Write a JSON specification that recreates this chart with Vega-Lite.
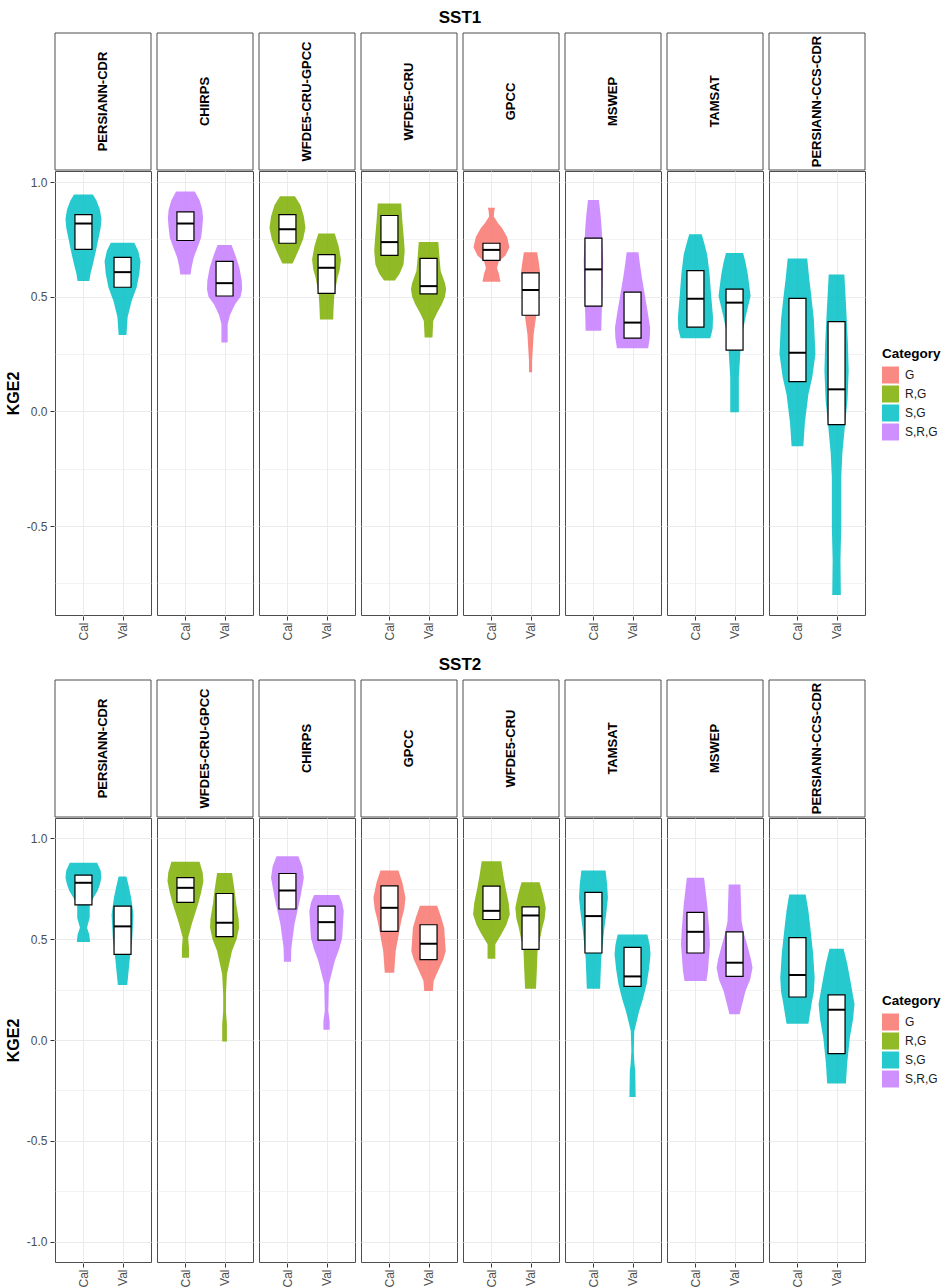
{
  "$schema": "https://vega.github.io/schema/vega-lite/v6.json",
  "background": "white",
  "padding": {"left": 5, "top": 8, "right": 2, "bottom": 0},
  "datasets": {
    "sst1": [
      {"kind":"violin","dataset":"PERSIANN-CDR","period":"Cal","category":"S,G","kge":0.945,"density":0.24},
      {"kind":"violin","dataset":"PERSIANN-CDR","period":"Cal","category":"S,G","kge":0.92,"density":0.33},
      {"kind":"violin","dataset":"PERSIANN-CDR","period":"Cal","category":"S,G","kge":0.88,"density":0.42},
      {"kind":"violin","dataset":"PERSIANN-CDR","period":"Cal","category":"S,G","kge":0.84,"density":0.46},
      {"kind":"violin","dataset":"PERSIANN-CDR","period":"Cal","category":"S,G","kge":0.80,"density":0.44},
      {"kind":"violin","dataset":"PERSIANN-CDR","period":"Cal","category":"S,G","kge":0.75,"density":0.38},
      {"kind":"violin","dataset":"PERSIANN-CDR","period":"Cal","category":"S,G","kge":0.70,"density":0.32},
      {"kind":"violin","dataset":"PERSIANN-CDR","period":"Cal","category":"S,G","kge":0.64,"density":0.24},
      {"kind":"violin","dataset":"PERSIANN-CDR","period":"Cal","category":"S,G","kge":0.60,"density":0.18},
      {"kind":"violin","dataset":"PERSIANN-CDR","period":"Cal","category":"S,G","kge":0.568,"density":0.15},
      {"kind":"violin","dataset":"PERSIANN-CDR","period":"Val","category":"S,G","kge":0.735,"density":0.30},
      {"kind":"violin","dataset":"PERSIANN-CDR","period":"Val","category":"S,G","kge":0.70,"density":0.40},
      {"kind":"violin","dataset":"PERSIANN-CDR","period":"Val","category":"S,G","kge":0.655,"density":0.46},
      {"kind":"violin","dataset":"PERSIANN-CDR","period":"Val","category":"S,G","kge":0.60,"density":0.43},
      {"kind":"violin","dataset":"PERSIANN-CDR","period":"Val","category":"S,G","kge":0.54,"density":0.36},
      {"kind":"violin","dataset":"PERSIANN-CDR","period":"Val","category":"S,G","kge":0.48,"density":0.23},
      {"kind":"violin","dataset":"PERSIANN-CDR","period":"Val","category":"S,G","kge":0.41,"density":0.13},
      {"kind":"violin","dataset":"PERSIANN-CDR","period":"Val","category":"S,G","kge":0.333,"density":0.10},
      {"kind":"violin","dataset":"CHIRPS","period":"Cal","category":"S,R,G","kge":0.959,"density":0.24},
      {"kind":"violin","dataset":"CHIRPS","period":"Cal","category":"S,R,G","kge":0.92,"density":0.36},
      {"kind":"violin","dataset":"CHIRPS","period":"Cal","category":"S,R,G","kge":0.88,"density":0.43},
      {"kind":"violin","dataset":"CHIRPS","period":"Cal","category":"S,R,G","kge":0.843,"density":0.45},
      {"kind":"violin","dataset":"CHIRPS","period":"Cal","category":"S,R,G","kge":0.80,"density":0.43},
      {"kind":"violin","dataset":"CHIRPS","period":"Cal","category":"S,R,G","kge":0.757,"density":0.40},
      {"kind":"violin","dataset":"CHIRPS","period":"Cal","category":"S,R,G","kge":0.71,"density":0.30},
      {"kind":"violin","dataset":"CHIRPS","period":"Cal","category":"S,R,G","kge":0.67,"density":0.21},
      {"kind":"violin","dataset":"CHIRPS","period":"Cal","category":"S,R,G","kge":0.63,"density":0.16},
      {"kind":"violin","dataset":"CHIRPS","period":"Cal","category":"S,R,G","kge":0.597,"density":0.13},
      {"kind":"violin","dataset":"CHIRPS","period":"Val","category":"S,R,G","kge":0.725,"density":0.18},
      {"kind":"violin","dataset":"CHIRPS","period":"Val","category":"S,R,G","kge":0.68,"density":0.28},
      {"kind":"violin","dataset":"CHIRPS","period":"Val","category":"S,R,G","kge":0.626,"density":0.38},
      {"kind":"violin","dataset":"CHIRPS","period":"Val","category":"S,R,G","kge":0.57,"density":0.44},
      {"kind":"violin","dataset":"CHIRPS","period":"Val","category":"S,R,G","kge":0.532,"density":0.45},
      {"kind":"violin","dataset":"CHIRPS","period":"Val","category":"S,R,G","kge":0.50,"density":0.41},
      {"kind":"violin","dataset":"CHIRPS","period":"Val","category":"S,R,G","kge":0.467,"density":0.27},
      {"kind":"violin","dataset":"CHIRPS","period":"Val","category":"S,R,G","kge":0.42,"density":0.14},
      {"kind":"violin","dataset":"CHIRPS","period":"Val","category":"S,R,G","kge":0.38,"density":0.08},
      {"kind":"violin","dataset":"CHIRPS","period":"Val","category":"S,R,G","kge":0.30,"density":0.08},
      {"kind":"violin","dataset":"WFDE5-CRU-GPCC","period":"Cal","category":"R,G","kge":0.938,"density":0.19},
      {"kind":"violin","dataset":"WFDE5-CRU-GPCC","period":"Cal","category":"R,G","kge":0.90,"density":0.33},
      {"kind":"violin","dataset":"WFDE5-CRU-GPCC","period":"Cal","category":"R,G","kge":0.85,"density":0.42},
      {"kind":"violin","dataset":"WFDE5-CRU-GPCC","period":"Cal","category":"R,G","kge":0.80,"density":0.46},
      {"kind":"violin","dataset":"WFDE5-CRU-GPCC","period":"Cal","category":"R,G","kge":0.75,"density":0.40},
      {"kind":"violin","dataset":"WFDE5-CRU-GPCC","period":"Cal","category":"R,G","kge":0.70,"density":0.28},
      {"kind":"violin","dataset":"WFDE5-CRU-GPCC","period":"Cal","category":"R,G","kge":0.67,"density":0.20},
      {"kind":"violin","dataset":"WFDE5-CRU-GPCC","period":"Cal","category":"R,G","kge":0.645,"density":0.13},
      {"kind":"violin","dataset":"WFDE5-CRU-GPCC","period":"Val","category":"R,G","kge":0.775,"density":0.21},
      {"kind":"violin","dataset":"WFDE5-CRU-GPCC","period":"Val","category":"R,G","kge":0.72,"density":0.31},
      {"kind":"violin","dataset":"WFDE5-CRU-GPCC","period":"Val","category":"R,G","kge":0.662,"density":0.37},
      {"kind":"violin","dataset":"WFDE5-CRU-GPCC","period":"Val","category":"R,G","kge":0.62,"density":0.34},
      {"kind":"violin","dataset":"WFDE5-CRU-GPCC","period":"Val","category":"R,G","kge":0.583,"density":0.28},
      {"kind":"violin","dataset":"WFDE5-CRU-GPCC","period":"Val","category":"R,G","kge":0.51,"density":0.20},
      {"kind":"violin","dataset":"WFDE5-CRU-GPCC","period":"Val","category":"R,G","kge":0.45,"density":0.18},
      {"kind":"violin","dataset":"WFDE5-CRU-GPCC","period":"Val","category":"R,G","kge":0.40,"density":0.17},
      {"kind":"violin","dataset":"WFDE5-CRU","period":"Cal","category":"R,G","kge":0.906,"density":0.30},
      {"kind":"violin","dataset":"WFDE5-CRU","period":"Cal","category":"R,G","kge":0.829,"density":0.33},
      {"kind":"violin","dataset":"WFDE5-CRU","period":"Cal","category":"R,G","kge":0.75,"density":0.37},
      {"kind":"violin","dataset":"WFDE5-CRU","period":"Cal","category":"R,G","kge":0.699,"density":0.39},
      {"kind":"violin","dataset":"WFDE5-CRU","period":"Cal","category":"R,G","kge":0.64,"density":0.36},
      {"kind":"violin","dataset":"WFDE5-CRU","period":"Cal","category":"R,G","kge":0.60,"density":0.26},
      {"kind":"violin","dataset":"WFDE5-CRU","period":"Cal","category":"R,G","kge":0.571,"density":0.14},
      {"kind":"violin","dataset":"WFDE5-CRU","period":"Val","category":"R,G","kge":0.738,"density":0.25},
      {"kind":"violin","dataset":"WFDE5-CRU","period":"Val","category":"R,G","kge":0.67,"density":0.28},
      {"kind":"violin","dataset":"WFDE5-CRU","period":"Val","category":"R,G","kge":0.612,"density":0.31},
      {"kind":"violin","dataset":"WFDE5-CRU","period":"Val","category":"R,G","kge":0.56,"density":0.42},
      {"kind":"violin","dataset":"WFDE5-CRU","period":"Val","category":"R,G","kge":0.532,"density":0.45},
      {"kind":"violin","dataset":"WFDE5-CRU","period":"Val","category":"R,G","kge":0.50,"density":0.42},
      {"kind":"violin","dataset":"WFDE5-CRU","period":"Val","category":"R,G","kge":0.467,"density":0.34},
      {"kind":"violin","dataset":"WFDE5-CRU","period":"Val","category":"R,G","kge":0.43,"density":0.22},
      {"kind":"violin","dataset":"WFDE5-CRU","period":"Val","category":"R,G","kge":0.394,"density":0.12},
      {"kind":"violin","dataset":"WFDE5-CRU","period":"Val","category":"R,G","kge":0.322,"density":0.10},
      {"kind":"violin","dataset":"GPCC","period":"Cal","category":"G","kge":0.888,"density":0.09},
      {"kind":"violin","dataset":"GPCC","period":"Cal","category":"G","kge":0.87,"density":0.07},
      {"kind":"violin","dataset":"GPCC","period":"Cal","category":"G","kge":0.85,"density":0.06},
      {"kind":"violin","dataset":"GPCC","period":"Cal","category":"G","kge":0.82,"density":0.17},
      {"kind":"violin","dataset":"GPCC","period":"Cal","category":"G","kge":0.80,"density":0.27},
      {"kind":"violin","dataset":"GPCC","period":"Cal","category":"G","kge":0.76,"density":0.40},
      {"kind":"violin","dataset":"GPCC","period":"Cal","category":"G","kge":0.716,"density":0.46},
      {"kind":"violin","dataset":"GPCC","period":"Cal","category":"G","kge":0.68,"density":0.36},
      {"kind":"violin","dataset":"GPCC","period":"Cal","category":"G","kge":0.655,"density":0.19},
      {"kind":"violin","dataset":"GPCC","period":"Cal","category":"G","kge":0.625,"density":0.14},
      {"kind":"violin","dataset":"GPCC","period":"Cal","category":"G","kge":0.60,"density":0.19},
      {"kind":"violin","dataset":"GPCC","period":"Cal","category":"G","kge":0.565,"density":0.23},
      {"kind":"violin","dataset":"GPCC","period":"Val","category":"G","kge":0.694,"density":0.17},
      {"kind":"violin","dataset":"GPCC","period":"Val","category":"G","kge":0.65,"density":0.21},
      {"kind":"violin","dataset":"GPCC","period":"Val","category":"G","kge":0.612,"density":0.24},
      {"kind":"violin","dataset":"GPCC","period":"Val","category":"G","kge":0.539,"density":0.22},
      {"kind":"violin","dataset":"GPCC","period":"Val","category":"G","kge":0.47,"density":0.18},
      {"kind":"violin","dataset":"GPCC","period":"Val","category":"G","kge":0.423,"density":0.15},
      {"kind":"violin","dataset":"GPCC","period":"Val","category":"G","kge":0.336,"density":0.08},
      {"kind":"violin","dataset":"GPCC","period":"Val","category":"G","kge":0.22,"density":0.04},
      {"kind":"violin","dataset":"GPCC","period":"Val","category":"G","kge":0.171,"density":0.04},
      {"kind":"violin","dataset":"MSWEP","period":"Cal","category":"S,R,G","kge":0.922,"density":0.14},
      {"kind":"violin","dataset":"MSWEP","period":"Cal","category":"S,R,G","kge":0.86,"density":0.18},
      {"kind":"violin","dataset":"MSWEP","period":"Cal","category":"S,R,G","kge":0.80,"density":0.21},
      {"kind":"violin","dataset":"MSWEP","period":"Cal","category":"S,R,G","kge":0.655,"density":0.25},
      {"kind":"violin","dataset":"MSWEP","period":"Cal","category":"S,R,G","kge":0.51,"density":0.23},
      {"kind":"violin","dataset":"MSWEP","period":"Cal","category":"S,R,G","kge":0.42,"density":0.21},
      {"kind":"violin","dataset":"MSWEP","period":"Cal","category":"S,R,G","kge":0.351,"density":0.20},
      {"kind":"violin","dataset":"MSWEP","period":"Val","category":"S,R,G","kge":0.694,"density":0.15},
      {"kind":"violin","dataset":"MSWEP","period":"Val","category":"S,R,G","kge":0.64,"density":0.19},
      {"kind":"violin","dataset":"MSWEP","period":"Val","category":"S,R,G","kge":0.583,"density":0.24},
      {"kind":"violin","dataset":"MSWEP","period":"Val","category":"S,R,G","kge":0.481,"density":0.34},
      {"kind":"violin","dataset":"MSWEP","period":"Val","category":"S,R,G","kge":0.42,"density":0.40},
      {"kind":"violin","dataset":"MSWEP","period":"Val","category":"S,R,G","kge":0.365,"density":0.45},
      {"kind":"violin","dataset":"MSWEP","period":"Val","category":"S,R,G","kge":0.32,"density":0.44},
      {"kind":"violin","dataset":"MSWEP","period":"Val","category":"S,R,G","kge":0.275,"density":0.40},
      {"kind":"violin","dataset":"TAMSAT","period":"Cal","category":"S,G","kge":0.772,"density":0.16},
      {"kind":"violin","dataset":"TAMSAT","period":"Cal","category":"S,G","kge":0.73,"density":0.23},
      {"kind":"violin","dataset":"TAMSAT","period":"Cal","category":"S,G","kge":0.684,"density":0.30},
      {"kind":"violin","dataset":"TAMSAT","period":"Cal","category":"S,G","kge":0.60,"density":0.36},
      {"kind":"violin","dataset":"TAMSAT","period":"Cal","category":"S,G","kge":0.51,"density":0.40},
      {"kind":"violin","dataset":"TAMSAT","period":"Cal","category":"S,G","kge":0.409,"density":0.45},
      {"kind":"violin","dataset":"TAMSAT","period":"Cal","category":"S,G","kge":0.36,"density":0.44},
      {"kind":"violin","dataset":"TAMSAT","period":"Cal","category":"S,G","kge":0.319,"density":0.38},
      {"kind":"violin","dataset":"TAMSAT","period":"Val","category":"S,G","kge":0.690,"density":0.22},
      {"kind":"violin","dataset":"TAMSAT","period":"Val","category":"S,G","kge":0.65,"density":0.28},
      {"kind":"violin","dataset":"TAMSAT","period":"Val","category":"S,G","kge":0.597,"density":0.34},
      {"kind":"violin","dataset":"TAMSAT","period":"Val","category":"S,G","kge":0.503,"density":0.41},
      {"kind":"violin","dataset":"TAMSAT","period":"Val","category":"S,G","kge":0.409,"density":0.28},
      {"kind":"violin","dataset":"TAMSAT","period":"Val","category":"S,G","kge":0.35,"density":0.21},
      {"kind":"violin","dataset":"TAMSAT","period":"Val","category":"S,G","kge":0.29,"density":0.16},
      {"kind":"violin","dataset":"TAMSAT","period":"Val","category":"S,G","kge":0.148,"density":0.11},
      {"kind":"violin","dataset":"TAMSAT","period":"Val","category":"S,G","kge":-0.004,"density":0.11},
      {"kind":"violin","dataset":"PERSIANN-CCS-CDR","period":"Cal","category":"S,G","kge":0.667,"density":0.25},
      {"kind":"violin","dataset":"PERSIANN-CCS-CDR","period":"Cal","category":"S,G","kge":0.58,"density":0.30},
      {"kind":"violin","dataset":"PERSIANN-CCS-CDR","period":"Cal","category":"S,G","kge":0.51,"density":0.35},
      {"kind":"violin","dataset":"PERSIANN-CCS-CDR","period":"Cal","category":"S,G","kge":0.40,"density":0.42},
      {"kind":"violin","dataset":"PERSIANN-CCS-CDR","period":"Cal","category":"S,G","kge":0.25,"density":0.46},
      {"kind":"violin","dataset":"PERSIANN-CCS-CDR","period":"Cal","category":"S,G","kge":0.15,"density":0.38},
      {"kind":"violin","dataset":"PERSIANN-CCS-CDR","period":"Cal","category":"S,G","kge":0.075,"density":0.28},
      {"kind":"violin","dataset":"PERSIANN-CCS-CDR","period":"Cal","category":"S,G","kge":-0.05,"density":0.19},
      {"kind":"violin","dataset":"PERSIANN-CCS-CDR","period":"Cal","category":"S,G","kge":-0.152,"density":0.15},
      {"kind":"violin","dataset":"PERSIANN-CCS-CDR","period":"Val","category":"S,G","kge":0.597,"density":0.20},
      {"kind":"violin","dataset":"PERSIANN-CCS-CDR","period":"Val","category":"S,G","kge":0.438,"density":0.25},
      {"kind":"violin","dataset":"PERSIANN-CCS-CDR","period":"Val","category":"S,G","kge":0.30,"density":0.29},
      {"kind":"violin","dataset":"PERSIANN-CCS-CDR","period":"Val","category":"S,G","kge":0.177,"density":0.31},
      {"kind":"violin","dataset":"PERSIANN-CCS-CDR","period":"Val","category":"S,G","kge":0.05,"density":0.28},
      {"kind":"violin","dataset":"PERSIANN-CCS-CDR","period":"Val","category":"S,G","kge":-0.07,"density":0.21},
      {"kind":"violin","dataset":"PERSIANN-CCS-CDR","period":"Val","category":"S,G","kge":-0.18,"density":0.15},
      {"kind":"violin","dataset":"PERSIANN-CCS-CDR","period":"Val","category":"S,G","kge":-0.287,"density":0.12},
      {"kind":"violin","dataset":"PERSIANN-CCS-CDR","period":"Val","category":"S,G","kge":-0.504,"density":0.12},
      {"kind":"violin","dataset":"PERSIANN-CCS-CDR","period":"Val","category":"S,G","kge":-0.65,"density":0.10},
      {"kind":"violin","dataset":"PERSIANN-CCS-CDR","period":"Val","category":"S,G","kge":-0.801,"density":0.11},
      {"kind":"box","dataset":"PERSIANN-CDR","period":"Cal","q1":0.706,"median":0.819,"q3":0.858},
      {"kind":"box","dataset":"PERSIANN-CDR","period":"Val","q1":0.541,"median":0.607,"q3":0.671},
      {"kind":"box","dataset":"CHIRPS","period":"Cal","q1":0.745,"median":0.819,"q3":0.870},
      {"kind":"box","dataset":"CHIRPS","period":"Val","q1":0.503,"median":0.559,"q3":0.654},
      {"kind":"box","dataset":"WFDE5-CRU-GPCC","period":"Cal","q1":0.733,"median":0.794,"q3":0.858},
      {"kind":"box","dataset":"WFDE5-CRU-GPCC","period":"Val","q1":0.514,"median":0.626,"q3":0.683},
      {"kind":"box","dataset":"WFDE5-CRU","period":"Cal","q1":0.680,"median":0.738,"q3":0.854},
      {"kind":"box","dataset":"WFDE5-CRU","period":"Val","q1":0.512,"median":0.546,"q3":0.667},
      {"kind":"box","dataset":"GPCC","period":"Cal","q1":0.658,"median":0.704,"q3":0.733},
      {"kind":"box","dataset":"GPCC","period":"Val","q1":0.419,"median":0.529,"q3":0.604},
      {"kind":"box","dataset":"MSWEP","period":"Cal","q1":0.459,"median":0.619,"q3":0.755},
      {"kind":"box","dataset":"MSWEP","period":"Val","q1":0.319,"median":0.387,"q3":0.520},
      {"kind":"box","dataset":"TAMSAT","period":"Cal","q1":0.367,"median":0.491,"q3":0.614},
      {"kind":"box","dataset":"TAMSAT","period":"Val","q1":0.267,"median":0.474,"q3":0.533},
      {"kind":"box","dataset":"PERSIANN-CCS-CDR","period":"Cal","q1":0.130,"median":0.255,"q3":0.493},
      {"kind":"box","dataset":"PERSIANN-CCS-CDR","period":"Val","q1":-0.058,"median":0.096,"q3":0.391}
    ],
    "sst2": [
      {"kind":"violin","dataset":"PERSIANN-CDR","period":"Cal","category":"S,G","kge":0.878,"density":0.35},
      {"kind":"violin","dataset":"PERSIANN-CDR","period":"Cal","category":"S,G","kge":0.84,"density":0.44},
      {"kind":"violin","dataset":"PERSIANN-CDR","period":"Cal","category":"S,G","kge":0.804,"density":0.46},
      {"kind":"violin","dataset":"PERSIANN-CDR","period":"Cal","category":"S,G","kge":0.77,"density":0.42},
      {"kind":"violin","dataset":"PERSIANN-CDR","period":"Cal","category":"S,G","kge":0.738,"density":0.36},
      {"kind":"violin","dataset":"PERSIANN-CDR","period":"Cal","category":"S,G","kge":0.70,"density":0.24},
      {"kind":"violin","dataset":"PERSIANN-CDR","period":"Cal","category":"S,G","kge":0.672,"density":0.16},
      {"kind":"violin","dataset":"PERSIANN-CDR","period":"Cal","category":"S,G","kge":0.606,"density":0.16},
      {"kind":"violin","dataset":"PERSIANN-CDR","period":"Cal","category":"S,G","kge":0.556,"density":0.09},
      {"kind":"violin","dataset":"PERSIANN-CDR","period":"Cal","category":"S,G","kge":0.523,"density":0.15},
      {"kind":"violin","dataset":"PERSIANN-CDR","period":"Cal","category":"S,G","kge":0.485,"density":0.17},
      {"kind":"violin","dataset":"PERSIANN-CDR","period":"Val","category":"S,G","kge":0.810,"density":0.10},
      {"kind":"violin","dataset":"PERSIANN-CDR","period":"Val","category":"S,G","kge":0.76,"density":0.16},
      {"kind":"violin","dataset":"PERSIANN-CDR","period":"Val","category":"S,G","kge":0.705,"density":0.22},
      {"kind":"violin","dataset":"PERSIANN-CDR","period":"Val","category":"S,G","kge":0.622,"density":0.28},
      {"kind":"violin","dataset":"PERSIANN-CDR","period":"Val","category":"S,G","kge":0.507,"density":0.25},
      {"kind":"violin","dataset":"PERSIANN-CDR","period":"Val","category":"S,G","kge":0.391,"density":0.18},
      {"kind":"violin","dataset":"PERSIANN-CDR","period":"Val","category":"S,G","kge":0.272,"density":0.12},
      {"kind":"violin","dataset":"WFDE5-CRU-GPCC","period":"Cal","category":"R,G","kge":0.883,"density":0.36},
      {"kind":"violin","dataset":"WFDE5-CRU-GPCC","period":"Cal","category":"R,G","kge":0.83,"density":0.44},
      {"kind":"violin","dataset":"WFDE5-CRU-GPCC","period":"Cal","category":"R,G","kge":0.787,"density":0.46},
      {"kind":"violin","dataset":"WFDE5-CRU-GPCC","period":"Cal","category":"R,G","kge":0.73,"density":0.40},
      {"kind":"violin","dataset":"WFDE5-CRU-GPCC","period":"Cal","category":"R,G","kge":0.672,"density":0.32},
      {"kind":"violin","dataset":"WFDE5-CRU-GPCC","period":"Cal","category":"R,G","kge":0.573,"density":0.16},
      {"kind":"violin","dataset":"WFDE5-CRU-GPCC","period":"Cal","category":"R,G","kge":0.507,"density":0.07},
      {"kind":"violin","dataset":"WFDE5-CRU-GPCC","period":"Cal","category":"R,G","kge":0.457,"density":0.09},
      {"kind":"violin","dataset":"WFDE5-CRU-GPCC","period":"Cal","category":"R,G","kge":0.408,"density":0.09},
      {"kind":"violin","dataset":"WFDE5-CRU-GPCC","period":"Val","category":"R,G","kge":0.828,"density":0.19},
      {"kind":"violin","dataset":"WFDE5-CRU-GPCC","period":"Val","category":"R,G","kge":0.75,"density":0.25},
      {"kind":"violin","dataset":"WFDE5-CRU-GPCC","period":"Val","category":"R,G","kge":0.672,"density":0.30},
      {"kind":"violin","dataset":"WFDE5-CRU-GPCC","period":"Val","category":"R,G","kge":0.60,"density":0.36},
      {"kind":"violin","dataset":"WFDE5-CRU-GPCC","period":"Val","category":"R,G","kge":0.556,"density":0.37},
      {"kind":"violin","dataset":"WFDE5-CRU-GPCC","period":"Val","category":"R,G","kge":0.50,"density":0.31},
      {"kind":"violin","dataset":"WFDE5-CRU-GPCC","period":"Val","category":"R,G","kge":0.441,"density":0.19},
      {"kind":"violin","dataset":"WFDE5-CRU-GPCC","period":"Val","category":"R,G","kge":0.325,"density":0.06},
      {"kind":"violin","dataset":"WFDE5-CRU-GPCC","period":"Val","category":"R,G","kge":0.226,"density":0.035},
      {"kind":"violin","dataset":"WFDE5-CRU-GPCC","period":"Val","category":"R,G","kge":0.144,"density":0.035},
      {"kind":"violin","dataset":"WFDE5-CRU-GPCC","period":"Val","category":"R,G","kge":0.078,"density":0.06},
      {"kind":"violin","dataset":"WFDE5-CRU-GPCC","period":"Val","category":"R,G","kge":-0.008,"density":0.06},
      {"kind":"violin","dataset":"CHIRPS","period":"Cal","category":"S,R,G","kge":0.911,"density":0.28},
      {"kind":"violin","dataset":"CHIRPS","period":"Cal","category":"S,R,G","kge":0.86,"density":0.38},
      {"kind":"violin","dataset":"CHIRPS","period":"Cal","category":"S,R,G","kge":0.804,"density":0.42},
      {"kind":"violin","dataset":"CHIRPS","period":"Cal","category":"S,R,G","kge":0.705,"density":0.33},
      {"kind":"violin","dataset":"CHIRPS","period":"Cal","category":"S,R,G","kge":0.573,"density":0.18},
      {"kind":"violin","dataset":"CHIRPS","period":"Cal","category":"S,R,G","kge":0.457,"density":0.10},
      {"kind":"violin","dataset":"CHIRPS","period":"Cal","category":"S,R,G","kge":0.388,"density":0.09},
      {"kind":"violin","dataset":"CHIRPS","period":"Val","category":"S,R,G","kge":0.718,"density":0.32},
      {"kind":"violin","dataset":"CHIRPS","period":"Val","category":"S,R,G","kge":0.68,"density":0.40},
      {"kind":"violin","dataset":"CHIRPS","period":"Val","category":"S,R,G","kge":0.639,"density":0.44},
      {"kind":"violin","dataset":"CHIRPS","period":"Val","category":"S,R,G","kge":0.507,"density":0.40},
      {"kind":"violin","dataset":"CHIRPS","period":"Val","category":"S,R,G","kge":0.45,"density":0.32},
      {"kind":"violin","dataset":"CHIRPS","period":"Val","category":"S,R,G","kge":0.391,"density":0.21},
      {"kind":"violin","dataset":"CHIRPS","period":"Val","category":"S,R,G","kge":0.276,"density":0.06},
      {"kind":"violin","dataset":"CHIRPS","period":"Val","category":"S,R,G","kge":0.144,"density":0.045},
      {"kind":"violin","dataset":"CHIRPS","period":"Val","category":"S,R,G","kge":0.094,"density":0.08},
      {"kind":"violin","dataset":"CHIRPS","period":"Val","category":"S,R,G","kge":0.051,"density":0.08},
      {"kind":"violin","dataset":"GPCC","period":"Cal","category":"G","kge":0.840,"density":0.23},
      {"kind":"violin","dataset":"GPCC","period":"Cal","category":"G","kge":0.78,"density":0.33},
      {"kind":"violin","dataset":"GPCC","period":"Cal","category":"G","kge":0.705,"density":0.41},
      {"kind":"violin","dataset":"GPCC","period":"Cal","category":"G","kge":0.65,"density":0.38},
      {"kind":"violin","dataset":"GPCC","period":"Cal","category":"G","kge":0.589,"density":0.30},
      {"kind":"violin","dataset":"GPCC","period":"Cal","category":"G","kge":0.441,"density":0.16},
      {"kind":"violin","dataset":"GPCC","period":"Cal","category":"G","kge":0.333,"density":0.12},
      {"kind":"violin","dataset":"GPCC","period":"Val","category":"G","kge":0.665,"density":0.22},
      {"kind":"violin","dataset":"GPCC","period":"Val","category":"G","kge":0.61,"density":0.32},
      {"kind":"violin","dataset":"GPCC","period":"Val","category":"G","kge":0.556,"density":0.40},
      {"kind":"violin","dataset":"GPCC","period":"Val","category":"G","kge":0.441,"density":0.44},
      {"kind":"violin","dataset":"GPCC","period":"Val","category":"G","kge":0.40,"density":0.38},
      {"kind":"violin","dataset":"GPCC","period":"Val","category":"G","kge":0.358,"density":0.28},
      {"kind":"violin","dataset":"GPCC","period":"Val","category":"G","kge":0.292,"density":0.13},
      {"kind":"violin","dataset":"GPCC","period":"Val","category":"G","kge":0.243,"density":0.11},
      {"kind":"violin","dataset":"WFDE5-CRU","period":"Cal","category":"R,G","kge":0.886,"density":0.25},
      {"kind":"violin","dataset":"WFDE5-CRU","period":"Cal","category":"R,G","kge":0.82,"density":0.30},
      {"kind":"violin","dataset":"WFDE5-CRU","period":"Cal","category":"R,G","kge":0.754,"density":0.36},
      {"kind":"violin","dataset":"WFDE5-CRU","period":"Cal","category":"R,G","kge":0.68,"density":0.44},
      {"kind":"violin","dataset":"WFDE5-CRU","period":"Cal","category":"R,G","kge":0.622,"density":0.47},
      {"kind":"violin","dataset":"WFDE5-CRU","period":"Cal","category":"R,G","kge":0.57,"density":0.38},
      {"kind":"violin","dataset":"WFDE5-CRU","period":"Cal","category":"R,G","kge":0.523,"density":0.25},
      {"kind":"violin","dataset":"WFDE5-CRU","period":"Cal","category":"R,G","kge":0.474,"density":0.10},
      {"kind":"violin","dataset":"WFDE5-CRU","period":"Cal","category":"R,G","kge":0.403,"density":0.10},
      {"kind":"violin","dataset":"WFDE5-CRU","period":"Val","category":"R,G","kge":0.782,"density":0.23},
      {"kind":"violin","dataset":"WFDE5-CRU","period":"Val","category":"R,G","kge":0.72,"density":0.32},
      {"kind":"violin","dataset":"WFDE5-CRU","period":"Val","category":"R,G","kge":0.655,"density":0.39},
      {"kind":"violin","dataset":"WFDE5-CRU","period":"Val","category":"R,G","kge":0.60,"density":0.36},
      {"kind":"violin","dataset":"WFDE5-CRU","period":"Val","category":"R,G","kge":0.556,"density":0.30},
      {"kind":"violin","dataset":"WFDE5-CRU","period":"Val","category":"R,G","kge":0.441,"density":0.18},
      {"kind":"violin","dataset":"WFDE5-CRU","period":"Val","category":"R,G","kge":0.342,"density":0.16},
      {"kind":"violin","dataset":"WFDE5-CRU","period":"Val","category":"R,G","kge":0.254,"density":0.14},
      {"kind":"violin","dataset":"TAMSAT","period":"Cal","category":"S,G","kge":0.840,"density":0.31},
      {"kind":"violin","dataset":"TAMSAT","period":"Cal","category":"S,G","kge":0.77,"density":0.35},
      {"kind":"violin","dataset":"TAMSAT","period":"Cal","category":"S,G","kge":0.705,"density":0.37},
      {"kind":"violin","dataset":"TAMSAT","period":"Cal","category":"S,G","kge":0.63,"density":0.33},
      {"kind":"violin","dataset":"TAMSAT","period":"Cal","category":"S,G","kge":0.556,"density":0.28},
      {"kind":"violin","dataset":"TAMSAT","period":"Cal","category":"S,G","kge":0.408,"density":0.20},
      {"kind":"violin","dataset":"TAMSAT","period":"Cal","category":"S,G","kge":0.309,"density":0.18},
      {"kind":"violin","dataset":"TAMSAT","period":"Cal","category":"S,G","kge":0.254,"density":0.17},
      {"kind":"violin","dataset":"TAMSAT","period":"Val","category":"S,G","kge":0.523,"density":0.38},
      {"kind":"violin","dataset":"TAMSAT","period":"Val","category":"S,G","kge":0.47,"density":0.44},
      {"kind":"violin","dataset":"TAMSAT","period":"Val","category":"S,G","kge":0.424,"density":0.46},
      {"kind":"violin","dataset":"TAMSAT","period":"Val","category":"S,G","kge":0.35,"density":0.42},
      {"kind":"violin","dataset":"TAMSAT","period":"Val","category":"S,G","kge":0.276,"density":0.36},
      {"kind":"violin","dataset":"TAMSAT","period":"Val","category":"S,G","kge":0.20,"density":0.26},
      {"kind":"violin","dataset":"TAMSAT","period":"Val","category":"S,G","kge":0.144,"density":0.17},
      {"kind":"violin","dataset":"TAMSAT","period":"Val","category":"S,G","kge":0.045,"density":0.045},
      {"kind":"violin","dataset":"TAMSAT","period":"Val","category":"S,G","kge":-0.054,"density":0.03},
      {"kind":"violin","dataset":"TAMSAT","period":"Val","category":"S,G","kge":-0.12,"density":0.05},
      {"kind":"violin","dataset":"TAMSAT","period":"Val","category":"S,G","kge":-0.153,"density":0.07},
      {"kind":"violin","dataset":"TAMSAT","period":"Val","category":"S,G","kge":-0.282,"density":0.08},
      {"kind":"violin","dataset":"MSWEP","period":"Cal","category":"S,R,G","kge":0.804,"density":0.22},
      {"kind":"violin","dataset":"MSWEP","period":"Cal","category":"S,R,G","kge":0.672,"density":0.30},
      {"kind":"violin","dataset":"MSWEP","period":"Cal","category":"S,R,G","kge":0.55,"density":0.35},
      {"kind":"violin","dataset":"MSWEP","period":"Cal","category":"S,R,G","kge":0.474,"density":0.37},
      {"kind":"violin","dataset":"MSWEP","period":"Cal","category":"S,R,G","kge":0.342,"density":0.32},
      {"kind":"violin","dataset":"MSWEP","period":"Cal","category":"S,R,G","kge":0.292,"density":0.28},
      {"kind":"violin","dataset":"MSWEP","period":"Val","category":"S,R,G","kge":0.771,"density":0.15},
      {"kind":"violin","dataset":"MSWEP","period":"Val","category":"S,R,G","kge":0.589,"density":0.18},
      {"kind":"violin","dataset":"MSWEP","period":"Val","category":"S,R,G","kge":0.52,"density":0.25},
      {"kind":"violin","dataset":"MSWEP","period":"Val","category":"S,R,G","kge":0.474,"density":0.32},
      {"kind":"violin","dataset":"MSWEP","period":"Val","category":"S,R,G","kge":0.40,"density":0.42},
      {"kind":"violin","dataset":"MSWEP","period":"Val","category":"S,R,G","kge":0.358,"density":0.46},
      {"kind":"violin","dataset":"MSWEP","period":"Val","category":"S,R,G","kge":0.30,"density":0.40},
      {"kind":"violin","dataset":"MSWEP","period":"Val","category":"S,R,G","kge":0.243,"density":0.28},
      {"kind":"violin","dataset":"MSWEP","period":"Val","category":"S,R,G","kge":0.127,"density":0.13},
      {"kind":"violin","dataset":"PERSIANN-CCS-CDR","period":"Cal","category":"S,G","kge":0.721,"density":0.21},
      {"kind":"violin","dataset":"PERSIANN-CCS-CDR","period":"Cal","category":"S,G","kge":0.64,"density":0.28},
      {"kind":"violin","dataset":"PERSIANN-CCS-CDR","period":"Cal","category":"S,G","kge":0.556,"density":0.33},
      {"kind":"violin","dataset":"PERSIANN-CCS-CDR","period":"Cal","category":"S,G","kge":0.43,"density":0.40},
      {"kind":"violin","dataset":"PERSIANN-CCS-CDR","period":"Cal","category":"S,G","kge":0.309,"density":0.44},
      {"kind":"violin","dataset":"PERSIANN-CCS-CDR","period":"Cal","category":"S,G","kge":0.24,"density":0.42},
      {"kind":"violin","dataset":"PERSIANN-CCS-CDR","period":"Cal","category":"S,G","kge":0.177,"density":0.36},
      {"kind":"violin","dataset":"PERSIANN-CCS-CDR","period":"Cal","category":"S,G","kge":0.081,"density":0.28},
      {"kind":"violin","dataset":"PERSIANN-CCS-CDR","period":"Val","category":"S,G","kge":0.452,"density":0.18},
      {"kind":"violin","dataset":"PERSIANN-CCS-CDR","period":"Val","category":"S,G","kge":0.38,"density":0.27},
      {"kind":"violin","dataset":"PERSIANN-CCS-CDR","period":"Val","category":"S,G","kge":0.309,"density":0.34},
      {"kind":"violin","dataset":"PERSIANN-CCS-CDR","period":"Val","category":"S,G","kge":0.177,"density":0.46},
      {"kind":"violin","dataset":"PERSIANN-CCS-CDR","period":"Val","category":"S,G","kge":0.10,"density":0.42},
      {"kind":"violin","dataset":"PERSIANN-CCS-CDR","period":"Val","category":"S,G","kge":0.012,"density":0.34},
      {"kind":"violin","dataset":"PERSIANN-CCS-CDR","period":"Val","category":"S,G","kge":-0.12,"density":0.27},
      {"kind":"violin","dataset":"PERSIANN-CCS-CDR","period":"Val","category":"S,G","kge":-0.216,"density":0.24},
      {"kind":"box","dataset":"PERSIANN-CDR","period":"Cal","q1":0.670,"median":0.779,"q3":0.817},
      {"kind":"box","dataset":"PERSIANN-CDR","period":"Val","q1":0.424,"median":0.563,"q3":0.663},
      {"kind":"box","dataset":"WFDE5-CRU-GPCC","period":"Cal","q1":0.682,"median":0.754,"q3":0.805},
      {"kind":"box","dataset":"WFDE5-CRU-GPCC","period":"Val","q1":0.512,"median":0.581,"q3":0.726},
      {"kind":"box","dataset":"CHIRPS","period":"Cal","q1":0.649,"median":0.741,"q3":0.825},
      {"kind":"box","dataset":"CHIRPS","period":"Val","q1":0.495,"median":0.584,"q3":0.663},
      {"kind":"box","dataset":"GPCC","period":"Cal","q1":0.538,"median":0.655,"q3":0.764},
      {"kind":"box","dataset":"GPCC","period":"Val","q1":0.398,"median":0.477,"q3":0.571},
      {"kind":"box","dataset":"WFDE5-CRU","period":"Cal","q1":0.597,"median":0.640,"q3":0.762},
      {"kind":"box","dataset":"WFDE5-CRU","period":"Val","q1":0.449,"median":0.617,"q3":0.660},
      {"kind":"box","dataset":"TAMSAT","period":"Cal","q1":0.431,"median":0.614,"q3":0.731},
      {"kind":"box","dataset":"TAMSAT","period":"Val","q1":0.266,"median":0.315,"q3":0.459},
      {"kind":"box","dataset":"MSWEP","period":"Cal","q1":0.431,"median":0.536,"q3":0.632},
      {"kind":"box","dataset":"MSWEP","period":"Val","q1":0.315,"median":0.383,"q3":0.536},
      {"kind":"box","dataset":"PERSIANN-CCS-CDR","period":"Cal","q1":0.213,"median":0.322,"q3":0.507},
      {"kind":"box","dataset":"PERSIANN-CCS-CDR","period":"Val","q1":-0.068,"median":0.150,"q3":0.224}
    ]
  },
  "vconcat": [
    {
      "spacing": -2,
      "resolve": {"legend": {"color": "independent"}, "scale": {"x": "independent", "y": "independent", "color": "independent"}},
      "vconcat": [
        {
          "data": {"name": "sst1"},
          "transform": [{"filter": "datum.kind === 'box' && datum.period === 'Cal'"}],
          "title": "SST1",
          "facet": {"column": {"field": "dataset", "type": "nominal", "title": null, "header": {"labels": false}, "sort": ["PERSIANN-CDR","CHIRPS","WFDE5-CRU-GPCC","WFDE5-CRU","GPCC","MSWEP","TAMSAT","PERSIANN-CCS-CDR"]}},
          "spacing": {"column": 4},
          "spec": {
            "width": 96, "height": 137,
            "layer": [
              {"mark": {"type": "rect", "fill": "white", "stroke": "#4D4D4D", "strokeWidth": 1}},
              {"mark": {"type": "text", "angle": 270, "fontSize": 13, "fontWeight": "bold", "color": "black", "align": "center", "baseline": "middle"},
               "encoding": {"text": {"field": "dataset", "type": "nominal"}}}
            ]
          }
        },
        {
          "data": {"name": "sst1"},
          "facet": {"column": {"field": "dataset", "type": "nominal", "title": null, "header": {"labels": false}, "sort": ["PERSIANN-CDR","CHIRPS","WFDE5-CRU-GPCC","WFDE5-CRU","GPCC","MSWEP","TAMSAT","PERSIANN-CCS-CDR"]}},
          "spacing": {"column": 4},
          "spec": {
            "width": 96, "height": 444,
            "layer": [
              {
                "transform": [
                  {"filter": "datum.kind === 'violin'"},
                  {"calculate": "datum.period === 'Cal' ? 1 : 2", "as": "pos"},
                  {"calculate": "datum.pos - datum.density", "as": "left"},
                  {"calculate": "datum.pos + datum.density", "as": "right"}
                ],
                "mark": {"type": "area", "orient": "horizontal", "opacity": 0.85},
                "encoding": {
                  "y": {"field": "kge", "type": "quantitative", "title": "KGE2",
                    "scale": {"domain": [-0.888, 1.048], "nice": false, "zero": false},
                    "axis": {"values": [-0.75,-0.5,-0.25,0,0.25,0.5,0.75,1], "labelExpr": "datum.value % 0.5 === 0 ? replace(format(datum.value, '.1f'), '\u2212', '-') : ''", "labelOverlap": false, "tickOpacity": {"condition": {"test": "datum.value % 0.5 === 0", "value": 1}, "value": 0}, "gridWidth": {"condition": {"test": "datum.value % 0.5 === 0", "value": 1}, "value": 0.6}, "labelPadding": 3, "titleFontSize": 16, "titleFontWeight": "bold", "titleColor": "black", "titlePadding": 5}},
                  "x": {"field": "left", "type": "quantitative", "title": null,
                    "scale": {"domain": [0.4, 2.6], "nice": false, "zero": false},
                    "axis": {"values": [1, 2], "labelExpr": "datum.value === 1 ? 'Cal' : 'Val'", "labelAngle": 270, "labelPadding": 2, "grid": true}},
                  "x2": {"field": "right"},
                  "color": {"field": "category", "type": "nominal",
                    "scale": {"domain": ["G","R,G","S,G","S,R,G"], "range": ["#F8766D","#7CAE00","#00BFC4","#C77CFF"]},
                    "legend": {"title": "Category", "orient": "none", "legendX": 827, "legendY": 176}},
                  "detail": {"field": "period", "type": "nominal"}
                }
              },
              {
                "transform": [
                  {"filter": "datum.kind === 'box'"},
                  {"calculate": "datum.period === 'Cal' ? 1 : 2", "as": "pos"}
                ],
                "mark": {"type": "bar", "size": 17, "fill": "white", "stroke": "black", "strokeWidth": 1.2},
                "encoding": {
                  "x": {"field": "pos", "type": "quantitative", "title": null},
                  "y": {"field": "q1", "type": "quantitative", "title": "KGE2"},
                  "y2": {"field": "q3"}
                }
              },
              {
                "transform": [
                  {"filter": "datum.kind === 'box'"},
                  {"calculate": "datum.period === 'Cal' ? 1 : 2", "as": "pos"}
                ],
                "mark": {"type": "tick", "orient": "horizontal", "size": 17, "thickness": 2, "color": "black", "opacity": 1},
                "encoding": {
                  "x": {"field": "pos", "type": "quantitative", "title": null},
                  "y": {"field": "median", "type": "quantitative", "title": "KGE2"}
                }
              }
            ]
          }
        }
      ]
    },
    {
      "spacing": -2,
      "resolve": {"legend": {"color": "independent"}, "scale": {"x": "independent", "y": "independent", "color": "independent"}},
      "vconcat": [
        {
          "data": {"name": "sst2"},
          "transform": [{"filter": "datum.kind === 'box' && datum.period === 'Cal'"}],
          "title": "SST2",
          "facet": {"column": {"field": "dataset", "type": "nominal", "title": null, "header": {"labels": false}, "sort": ["PERSIANN-CDR","WFDE5-CRU-GPCC","CHIRPS","GPCC","WFDE5-CRU","TAMSAT","MSWEP","PERSIANN-CCS-CDR"]}},
          "spacing": {"column": 4},
          "spec": {
            "width": 96, "height": 137,
            "layer": [
              {"mark": {"type": "rect", "fill": "white", "stroke": "#4D4D4D", "strokeWidth": 1}},
              {"mark": {"type": "text", "angle": 270, "fontSize": 13, "fontWeight": "bold", "color": "black", "align": "center", "baseline": "middle"},
               "encoding": {"text": {"field": "dataset", "type": "nominal"}}}
            ]
          }
        },
        {
          "data": {"name": "sst2"},
          "facet": {"column": {"field": "dataset", "type": "nominal", "title": null, "header": {"labels": false}, "sort": ["PERSIANN-CDR","WFDE5-CRU-GPCC","CHIRPS","GPCC","WFDE5-CRU","TAMSAT","MSWEP","PERSIANN-CCS-CDR"]}},
          "spacing": {"column": 4},
          "spec": {
            "width": 96, "height": 444,
            "layer": [
              {
                "transform": [
                  {"filter": "datum.kind === 'violin'"},
                  {"calculate": "datum.period === 'Cal' ? 1 : 2", "as": "pos"},
                  {"calculate": "datum.pos - datum.density", "as": "left"},
                  {"calculate": "datum.pos + datum.density", "as": "right"}
                ],
                "mark": {"type": "area", "orient": "horizontal", "opacity": 0.85},
                "encoding": {
                  "y": {"field": "kge", "type": "quantitative", "title": "KGE2",
                    "scale": {"domain": [-1.1, 1.1], "nice": false, "zero": false},
                    "axis": {"values": [-1,-0.75,-0.5,-0.25,0,0.25,0.5,0.75,1], "labelExpr": "datum.value % 0.5 === 0 ? replace(format(datum.value, '.1f'), '\u2212', '-') : ''", "labelOverlap": false, "tickOpacity": {"condition": {"test": "datum.value % 0.5 === 0", "value": 1}, "value": 0}, "gridWidth": {"condition": {"test": "datum.value % 0.5 === 0", "value": 1}, "value": 0.6}, "labelPadding": 3, "titleFontSize": 16, "titleFontWeight": "bold", "titleColor": "black", "titlePadding": 5}},
                  "x": {"field": "left", "type": "quantitative", "title": null,
                    "scale": {"domain": [0.4, 2.6], "nice": false, "zero": false},
                    "axis": {"values": [1, 2], "labelExpr": "datum.value === 1 ? 'Cal' : 'Val'", "labelAngle": 270, "labelPadding": 2, "grid": true}},
                  "x2": {"field": "right"},
                  "color": {"field": "category", "type": "nominal",
                    "scale": {"domain": ["G","R,G","S,G","S,R,G"], "range": ["#F8766D","#7CAE00","#00BFC4","#C77CFF"]},
                    "legend": {"title": "Category", "orient": "none", "legendX": 827, "legendY": 176}},
                  "detail": {"field": "period", "type": "nominal"}
                }
              },
              {
                "transform": [
                  {"filter": "datum.kind === 'box'"},
                  {"calculate": "datum.period === 'Cal' ? 1 : 2", "as": "pos"}
                ],
                "mark": {"type": "bar", "size": 17, "fill": "white", "stroke": "black", "strokeWidth": 1.2},
                "encoding": {
                  "x": {"field": "pos", "type": "quantitative", "title": null},
                  "y": {"field": "q1", "type": "quantitative", "title": "KGE2"},
                  "y2": {"field": "q3"}
                }
              },
              {
                "transform": [
                  {"filter": "datum.kind === 'box'"},
                  {"calculate": "datum.period === 'Cal' ? 1 : 2", "as": "pos"}
                ],
                "mark": {"type": "tick", "orient": "horizontal", "size": 17, "thickness": 2, "color": "black", "opacity": 1},
                "encoding": {
                  "x": {"field": "pos", "type": "quantitative", "title": null},
                  "y": {"field": "median", "type": "quantitative", "title": "KGE2"}
                }
              }
            ]
          }
        }
      ]
    }
  ],
  "spacing": 14,
  "resolve": {"legend": {"color": "independent"}, "scale": {"x": "independent", "y": "independent", "color": "independent"}},
  "config": {
    "font": "Liberation Sans",
    "view": {"stroke": "#4D4D4D", "strokeWidth": 1},
    "axis": {"domain": false, "labelColor": "#4D4D4D", "labelFontSize": 12, "tickColor": "#333333", "tickSize": 4, "gridColor": "#EBEBEB"},
    "title": {"fontSize": 17, "fontWeight": "bold", "anchor": "middle", "offset": 6, "color": "black"},
    "legend": {"titleFontSize": 13.5, "titleFontWeight": "bold", "titleColor": "black", "labelFontSize": 12, "labelColor": "#1A1A1A", "symbolType": "square", "symbolSize": 289, "symbolStrokeWidth": 0, "symbolOpacity": 0.85, "rowPadding": 2, "labelOffset": 6, "titlePadding": 6}
  }
}
